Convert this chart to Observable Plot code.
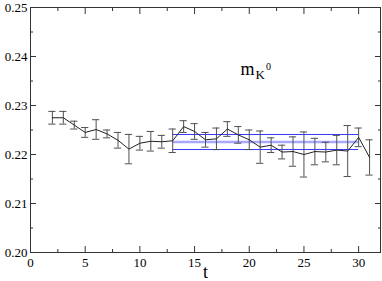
<!DOCTYPE html>
<html><head><meta charset="utf-8">
<script src="https://cdn.jsdelivr.net/npm/d3@7"></script>
<script src="https://cdn.jsdelivr.net/npm/@observablehq/plot@0.6"></script>
<style>body{margin:0;background:#fff}svg{display:block}svg text{font-family:"Liberation Serif","Tinos","Times New Roman","Times","DejaVu Serif",serif !important}</style>
</head><body><div id="chart"></div>
<script>
const tValues = d3.range(2, 32);
const mass = [0.2275,0.2275,0.2260,0.2245,0.2251,0.2242,0.2229,0.2211,0.2223,0.2227,0.2226,0.2228,0.2257,0.2247,0.2230,0.2232,0.2252,0.2240,0.2230,0.2215,0.2219,0.2205,0.2206,0.2200,0.2206,0.2205,0.2209,0.2207,0.2235,0.2194];
const massErr = [0.0013,0.0013,0.0008,0.0010,0.0020,0.0008,0.0016,0.0030,0.0014,0.0020,0.0013,0.0024,0.0012,0.0016,0.0015,0.0022,0.0015,0.0017,0.0020,0.0033,0.0015,0.0014,0.0030,0.0046,0.0027,0.0020,0.0030,0.0052,0.0019,0.0036];
const fitRange = [13, 30];
const fitValue = 0.22255;
const fitErr = 0.00153;
const xMajor = [0,5,10,15,20,25,30];
const xMinor = [2.5,7.5,12.5,17.5,22.5,27.5];
const yMajor = [0.20,0.21,0.22,0.23,0.24,0.25];
const yMinor = [0.205,0.215,0.225,0.235,0.245];

const data = tValues.map((t,i)=>({t, m: mass[i], e: massErr[i]}));
const fitLines = [
  {y: fitValue + fitErr, c: "#3a3aff", w: 1},
  {y: fitValue, c: "#a8a8ff", w: 2.5},
  {y: fitValue - fitErr, c: "#3a3aff", w: 1}
];
const font = '"Liberation Serif", Tinos, "Times New Roman", Times, "DejaVu Serif", serif';
const capHalf = 0.33;
const tickAxis = (o) => Plot.axisX({text: null, label: null, stroke: "#333", ...o});
const tickAxisY = (o) => Plot.axisY({text: null, label: null, stroke: "#333", ...o});

const chart = Plot.plot({
  width: 382, height: 281,
  marginLeft: 30, marginRight: 2, marginTop: 7, marginBottom: 29,
  style: {fontFamily: font, fontSize: "13px", color: "#000", background: "#fff"},
  x: {domain: [0, 32]},
  y: {domain: [0.20, 0.25]},
  marks: [
    ...fitLines.map(f => Plot.ruleY([f], {y: "y", x1: fitRange[0], x2: fitRange[1], stroke: f.c, strokeWidth: f.w})),
    Plot.ruleX(data, {x: "t", y1: d => d.m - d.e, y2: d => d.m + d.e, stroke: "#505050", strokeWidth: 1}),
    Plot.ruleY(data, {y: d => d.m + d.e, x1: d => d.t - capHalf, x2: d => d.t + capHalf, stroke: "#505050", strokeWidth: 1}),
    Plot.ruleY(data, {y: d => d.m - d.e, x1: d => d.t - capHalf, x2: d => d.t + capHalf, stroke: "#505050", strokeWidth: 1}),
    Plot.line(data, {x: "t", y: "m", stroke: "#222", strokeWidth: 1}),
    tickAxis({ticks: xMajor, tickSize: -6, anchor: "bottom"}),
    tickAxis({ticks: xMinor, tickSize: -3, anchor: "bottom"}),
    tickAxis({ticks: xMajor, tickSize: -6, anchor: "top"}),
    tickAxis({ticks: xMinor, tickSize: -3, anchor: "top"}),
    tickAxisY({ticks: yMajor, tickSize: -6, anchor: "left"}),
    tickAxisY({ticks: yMinor, tickSize: -3, anchor: "left"}),
    tickAxisY({ticks: yMajor, tickSize: -6, anchor: "right"}),
    tickAxisY({ticks: yMinor, tickSize: -3, anchor: "right"}),
    Plot.axisX({ticks: xMajor, tickSize: 0, tickPadding: 5, tickFormat: d3.format("d"), label: null, fontSize: 13, fontFamily: font}),
    Plot.axisY({ticks: yMajor, tickSize: 0, tickPadding: 3, tickFormat: d3.format(".2f"), label: null, fontSize: 13, fontFamily: font}),
    Plot.frame({stroke: "#333", strokeWidth: 1}),
    Plot.text(["t"], {frameAnchor: "bottom", dy: 25, fontSize: 18, fontFamily: font, lineAnchor: "bottom"}),
    Plot.text(["m"], {frameAnchor: "top-left", dx: 210, dy: 55, fontSize: 18, fontFamily: font, textAnchor: "start"}),
    Plot.text(["K"], {frameAnchor: "top-left", dx: 225, dy: 62, fontSize: 13, fontFamily: font, textAnchor: "start"}),
    Plot.text(["0"], {frameAnchor: "top-left", dx: 235.5, dy: 55, fontSize: 10, fontFamily: font, textAnchor: "start"})
  ]
});
document.getElementById("chart").append(chart);
</script></body></html>
